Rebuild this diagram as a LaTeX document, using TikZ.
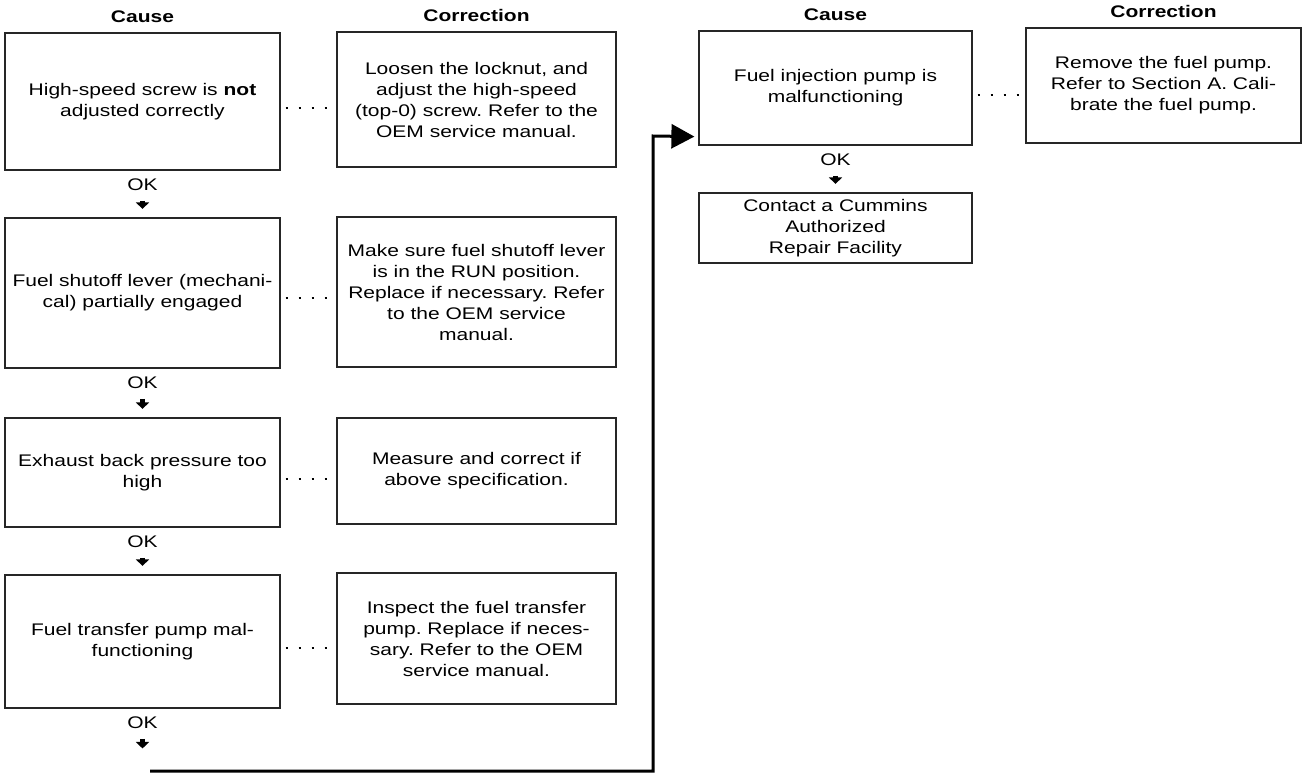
\documentclass[tikz,border=0pt]{standalone}
\usepackage{fontspec}
\setmainfont{Liberation Sans}[FakeStretch=1.25]
\usetikzlibrary{arrows.meta,calc}
\frenchspacing

\tikzset{
  boxline/.style={line width=1.2pt, draw=black!85},
  cbox/.style={boxline, rectangle, inner sep=0pt, align=center,
    font=\fontsize{16.8}{21}\selectfont},
  hdr/.style={anchor=base, inner sep=0pt, font=\fontsize{16.8}{21}\selectfont\bfseries},
  oklabel/.style={anchor=base, inner sep=0pt, font=\fontsize{16.8}{21}\selectfont},
  okarrow/.style={line width=5pt, -{Triangle[width=13pt,length=6.5pt]},
    shorten <=10pt, shorten >=8.5pt},
  dots/.style={line width=2pt, dash pattern=on 2pt off 11pt, dash phase=8pt},
  loopline/.style={line width=3pt, -{Triangle[width=24pt,length=23pt]}}
}

\begin{document}
\begin{tikzpicture}[x=1pt, y=-1pt]
  \fill[white] (0,0) rectangle (1310,774);
  \useasboundingbox (0,0) rectangle (1310,774);

  % ---- left column: causes ----
  \node[cbox, minimum width=275pt, minimum height=137pt] (c1) at (142.5,101.5)
    {High-speed screw is \textbf{not}\\adjusted correctly};
  \node[cbox, minimum width=275pt, minimum height=150pt] (c2) at (142.5,293)
    {Fuel shutoff lever (mechani-\\cal) partially engaged};
  \node[cbox, minimum width=275pt, minimum height=109pt] (c3) at (142.5,472.5)
    {Exhaust back pressure too\\high};
  \node[cbox, minimum width=275pt, minimum height=133pt] (c4) at (142.5,641.5)
    {Fuel transfer pump mal-\\functioning};

  % ---- left column: corrections ----
  \node[cbox, minimum width=279pt, minimum height=135pt] (r1) at (476.5,99.5)
    {Loosen the locknut, and\\adjust the high-speed\\(top-0) screw. Refer to the\\OEM service manual.};
  \node[cbox, minimum width=279pt, minimum height=150pt] (r2) at (476.5,292)
    {Make sure fuel shutoff lever\\is in the RUN position.\\Replace if necessary. Refer\\to the OEM service\\manual.};
  \node[cbox, minimum width=279pt, minimum height=106pt] (r3) at (476.5,471)
    {Measure and correct if\\above specification.};
  \node[cbox, minimum width=279pt, minimum height=131pt] (r4) at (476.5,638.5)
    {Inspect the fuel transfer\\pump. Replace if neces-\\sary. Refer to the OEM\\service manual.};

  % ---- right column ----
  \node[cbox, minimum width=273pt, minimum height=114pt] (rc) at (835.5,88)
    {Fuel injection pump is\\malfunctioning};
  \node[cbox, minimum width=275pt, minimum height=115pt] (rr) at (1163.5,85.5)
    {Remove the fuel pump.\\Refer to Section A. Cali-\\brate the fuel pump.};
  \node[cbox, minimum width=273pt, minimum height=70pt] (fac) at (835.5,228)
    {Contact a Cummins\\Authorized\\Repair Facility};

  % ---- column headings ----
  \node[hdr] (h1) at ($(c1.north)+(0,-10)$) {Cause};
  \node[hdr] (h2) at ($(r1.north)+(0,-10)$) {Correction};
  \node[hdr] (h3) at ($(rc.north)+(0,-10)$) {Cause};
  \node[hdr] (h4) at ($(rr.north)+(0,-10)$) {Correction};

  % ---- OK labels ----
  \node[oklabel] (ok1) at ($(c1.south)+(0,20)$) {OK};
  \node[oklabel] (ok2) at ($(c2.south)+(0,20)$) {OK};
  \node[oklabel] (ok3) at ($(c3.south)+(0,20)$) {OK};
  \node[oklabel] (ok4) at ($(c4.south)+(0,20)$) {OK};
  \node[oklabel] (ok5) at ($(rc.south)+(0,20)$) {OK};

  % ---- short OK arrows ----
  \draw[okarrow] (ok1) -- (c2);
  \draw[okarrow] (ok2) -- (c3);
  \draw[okarrow] (ok3) -- (c4);
  \draw[okarrow] (ok5) -- (fac);
  \coordinate (okend) at ($(ok4.south)+(0,28)$);
  \draw[okarrow] (ok4) -- (okend);

  % ---- dotted links cause -> correction ----
  \draw[dots] ($(c1.east)+(0,6)$) -- ($(r1.west |- c1.east)+(0,6)$);
  \draw[dots] ($(c2.east)+(0,5)$) -- ($(r2.west |- c2.east)+(0,5)$);
  \draw[dots] ($(c3.east)+(0,6)$) -- ($(r3.west |- c3.east)+(0,6)$);
  \draw[dots] ($(c4.east)+(0,6)$) -- ($(r4.west |- c4.east)+(0,6)$);
  \draw[dots] ($(rc.east)+(0,7)$) -- ($(rr.west |- rc.east)+(0,7)$);

  % ---- return line to the injection pump check ----
  \coordinate (loopstart) at (150,771);
  \coordinate (bend) at (653,136);
  \coordinate (tip) at ($(rc.south west)+(-4,-9)$);
  \draw[loopline] (loopstart) -| (bend) -- (tip);
\end{tikzpicture}
\end{document}
